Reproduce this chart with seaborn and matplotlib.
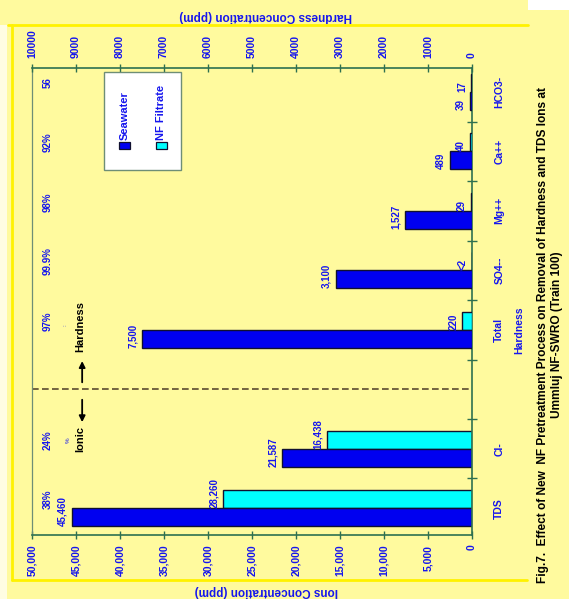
import matplotlib
matplotlib.use("Agg")
import matplotlib.pyplot as plt
from matplotlib.lines import Line2D
from matplotlib.patches import Rectangle
import pandas as pd
import seaborn as sns

# ---- data -------------------------------------------------------------
# category slots from top to bottom; the blank slot splits ionic / hardness
slot_order = ["HCO3-", "Ca++", "Mg++", "SO4--", "Total\nHardness", " ", "Cl-", "TDS"]

ion_categories = ["TDS", "Cl-"]
ion_seawater = [45460, 21587]
ion_nf = [28260, 16438]

hard_categories = ["Total\nHardness", "SO4--", "Mg++", "Ca++", "HCO3-"]
hard_seawater = [7500, 3100, 1527, 489, 39]
hard_nf = [220, 2, 29, 40, 17]
hard_nf_text = ["220", "<2", "29", "40", "17"]

removal_categories = ["TDS", "Cl-", "Total\nHardness", "SO4--", "Mg++", "Ca++", "HCO3-"]
removal_text = ["38%", "24%", "97%", "99.9%", "98%", "92%", "56"]

series_names = ["NF Filtrate", "Seawater"]
ion_ticks = [0, 5000, 10000, 15000, 20000, 25000, 30000, 35000, 40000, 45000, 50000]
hard_ticks = [0, 1000, 2000, 3000, 4000, 5000, 6000, 7000, 8000, 9000, 10000]

# ---- style ------------------------------------------------------------
YELLOW = "#FFFA9E"
BRIGHT = "#FFF200"
BLUE = "#0000F0"
CYAN = "#00FFFF"
EDGE = "#101030"
TXT = "#1515EE"
AXC = "#2E7050"
FRAME = "#6E8E76"

sns.set_style("white")
plt.rcParams["font.family"] = ["Liberation Sans", "DejaVu Sans"]

W, H = 569, 599


def fx(px):
    return px / W


def fy(py):
    return 1 - py / H


fig = plt.figure(figsize=(W / 100, H / 100), dpi=100, facecolor=YELLOW)
ax = fig.add_axes([fx(32), fy(535), (472 - 32) / W, (535 - 68) / H])
ax.set_facecolor(YELLOW)
ax2 = ax.twiny()

ion_df = pd.DataFrame({
    "category": ion_categories * 2,
    "series": ["Seawater"] * len(ion_categories) + ["NF Filtrate"] * len(ion_categories),
    "value": ion_seawater + ion_nf,
})
hard_df = pd.DataFrame({
    "category": hard_categories * 2,
    "series": ["Seawater"] * len(hard_categories) + ["NF Filtrate"] * len(hard_categories),
    "value": hard_seawater + hard_nf,
})

bar_kw = dict(x="value", y="category", hue="series", order=slot_order,
              hue_order=series_names, palette=[CYAN, BLUE], saturation=1,
              orient="h", width=0.6, edgecolor=EDGE, linewidth=1.0,
              errorbar=None, legend=False)
sns.barplot(data=ion_df, ax=ax, **bar_kw)
sns.barplot(data=hard_df, ax=ax2, **bar_kw)

ax.set_xlim(50000, 0)
ax2.set_xlim(10000, 0)
ax.set_ylim(7.45, -0.40)

# ---- axes -------------------------------------------------------------
ax.set_xticks(ion_ticks)
ax.set_xticklabels([f"{t:,}" for t in ion_ticks])
ax2.set_xticks(hard_ticks)
ax2.set_xticklabels([str(t) for t in hard_ticks])
for a in (ax, ax2):
    a.tick_params(axis="x", direction="inout", length=6, width=1, color=AXC,
                  labelrotation=90, labelsize=7.5, labelcolor=TXT, pad=4)
    for lbl in a.get_xticklabels():
        lbl.set_fontweight("bold")
    a.set_xlabel("")
    a.set_ylabel("")
    a.grid(False)

ax.yaxis.tick_right()
ax.set_yticks(range(len(slot_order)))
ax.set_yticks([i + 0.5 for i in range(len(slot_order) - 1)], minor=True)
ax.set_yticklabels(slot_order)
ax.tick_params(axis="y", which="major", length=0, pad=16, labelsize=7.5,
               labelcolor=TXT)
ax.tick_params(axis="y", which="minor", direction="inout", length=7, width=1,
               color=AXC, right=True, left=False)
for lbl in ax.get_yticklabels():
    lbl.set_rotation(90)
    lbl.set_fontweight("bold")
    lbl.set_multialignment("center")
    lbl.set_linespacing(2.2)
    lbl.set_va("center")

for name, sp in ax.spines.items():
    sp.set_visible(name in ("bottom", "right", "left"))
    sp.set_color(AXC)
    sp.set_linewidth(1.2)
ax.spines["left"].set_color(FRAME)
ax.spines["left"].set_linewidth(0.9)
for name, sp in ax2.spines.items():
    sp.set_visible(name == "top")
    sp.set_color(AXC)
    sp.set_linewidth(1.2)

ax.set_xlabel("Ions Concentration (ppm)", rotation=180, color=TXT,
              fontweight="bold", fontsize=8.5)
ax.xaxis.set_label_coords((266 - 32) / 440, -0.108)
ax2.set_xlabel("Hardness Concentration (ppm)", rotation=180, color=TXT,
               fontweight="bold", fontsize=8.5)
ax2.xaxis.set_label_coords((266 - 32) / 440, 1.105)


# ---- value labels: read upward from the lower edge of each bar ----------
def label_bars(axis, container, text_by_cat):
    for bar in container:
        yc = bar.get_y() + bar.get_height() / 2
        txt = text_by_cat.get(slot_order[int(round(yc))], "")
        axis.annotate(txt, xy=(bar.get_x() + bar.get_width(), bar.get_y() + bar.get_height()),
                      xytext=(-3, 0), textcoords="offset points", rotation=90,
                      ha="right", va="bottom", color=TXT, fontsize=7,
                      fontweight="bold")


label_bars(ax, ax.containers[0], dict(zip(ion_categories, [f"{v:,}" for v in ion_nf])))
label_bars(ax, ax.containers[1], dict(zip(ion_categories, [f"{v:,}" for v in ion_seawater])))
label_bars(ax2, ax2.containers[0], dict(zip(hard_categories, hard_nf_text)))
label_bars(ax2, ax2.containers[1], dict(zip(hard_categories, [f"{v:,}" for v in hard_seawater])))

ytrans = ax.get_yaxis_transform()
for cat, txt in zip(removal_categories, removal_text):
    ax.text((48 - 32) / 440, slot_order.index(cat) - 0.15, txt, transform=ytrans,
            rotation=90, ha="center", va="center", color=TXT, fontsize=7,
            fontweight="bold")

# ionic / hardness divider
gap = slot_order.index(" ")
ax.axhline(gap, color="#5A4A30", lw=1.2, ls=(0, (4, 2)))
arrow_kw = dict(arrowstyle="-|>", color="black", lw=1.3, mutation_scale=9)
ax.annotate("", xy=(0.114, gap - 0.52), xytext=(0.114, gap - 0.07),
            xycoords=ytrans, textcoords=ytrans, arrowprops=arrow_kw)
ax.annotate("", xy=(0.114, gap + 0.60), xytext=(0.114, gap + 0.13),
            xycoords=ytrans, textcoords=ytrans, arrowprops=arrow_kw)
ax.text(0.109, gap - 1.05, "Hardness", transform=ytrans, rotation=90,
        ha="center", va="center", fontsize=8, fontweight="bold", color="black")
ax.text(0.109, gap + 0.83, "Ionic", transform=ytrans, rotation=90,
        ha="center", va="center", fontsize=8, fontweight="bold", color="black")
ax.text(0.082, gap + 0.85, "%", transform=ytrans, rotation=90,
        ha="center", va="center", fontsize=4.5, color=TXT)
ax.text(0.075, gap - 1.08, ":", transform=ytrans, rotation=90,
        ha="center", va="center", fontsize=4.5, color=TXT)

# ---- legend -----------------------------------------------------------
fig.add_artist(Rectangle((fx(104), fy(170)), (181 - 104) / W, (170 - 72) / H,
                         transform=fig.transFigure, facecolor="white",
                         edgecolor=FRAME, lw=1.0))
for xc, name, col in ((124.5, "Seawater", BLUE), (161.5, "NF Filtrate", CYAN)):
    fig.add_artist(Rectangle((fx(xc - 5.5), fy(149)), 11 / W, 7 / H,
                             transform=fig.transFigure, facecolor=col,
                             edgecolor=EDGE, lw=0.9))
    fig.text(fx(xc), fy(140), name, rotation=90, ha="center", va="bottom",
             color=TXT, fontsize=8, fontweight="bold")

# ---- title ------------------------------------------------------------
fig.text(fx(550), fy(335),
         "Fig.7.  Effect of New  NF Pretreatment Process on Removal of Hardness and TDS Ions at\n"
         "Ummluj NF-SWRO (Train 100)",
         rotation=90, ha="center", va="center", multialignment="center",
         fontsize=8.6, fontweight="bold", color="black", linespacing=1.2)

# ---- page frame -------------------------------------------------------
fig.add_artist(Rectangle((fx(528), fy(10)), (W - 528) / W, 10 / H,
                         transform=fig.transFigure, facecolor="white", lw=0))
fig.add_artist(Rectangle((0, fy(H)), fx(7), fy(25) - fy(H),
                         transform=fig.transFigure, facecolor="#FFFDE2", lw=0))
for xs, ys in (([8, 528], [25, 25]), ([12, 12], [25, 580]), ([12, 527], [580, 580])):
    fig.add_artist(Line2D([fx(v) for v in xs], [fy(v) for v in ys],
                          transform=fig.transFigure, color=BRIGHT, lw=2))

fig.savefig("out.png", dpi=100, facecolor=YELLOW)
